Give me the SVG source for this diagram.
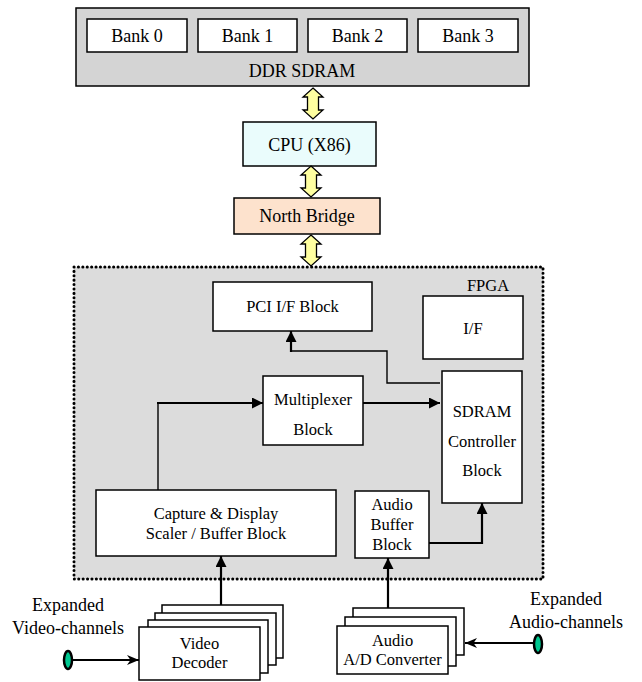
<svg xmlns="http://www.w3.org/2000/svg" width="642" height="682" viewBox="0 0 642 682">
<style>
  .t18 { font-family: "Liberation Serif", "Times New Roman", serif; font-size: 18px; fill: #000; text-anchor: middle; }
  .t16 { font-family: "Liberation Serif", "Times New Roman", serif; font-size: 16.5px; fill: #000; text-anchor: middle; }
  .box { fill: #ffffff; stroke: #000; stroke-width: 1.5; }
  .dbl { fill: #ffffa0; stroke: #000; stroke-width: 1.3; stroke-linejoin: miter; }
  .thick { fill: none; stroke: #000; stroke-width: 2.2; }
  .thin { fill: none; stroke: #000; stroke-width: 1.4; }
  .jack { fill: #00c890; stroke: #000; stroke-width: 2.5; }
</style>
<defs>
  <marker id="arr" viewBox="0 0 10 10" refX="10" refY="5" markerUnits="userSpaceOnUse" markerWidth="11" markerHeight="11" orient="auto">
    <path d="M0,0 L10,5 L0,10 Z" fill="#000"/>
  </marker>
  <marker id="stealth" viewBox="0 0 12 10" refX="12" refY="5" markerUnits="userSpaceOnUse" markerWidth="12" markerHeight="10" orient="auto">
    <path d="M0,0 L12,5 L0,10 L3.5,5 Z" fill="#000"/>
  </marker>
  <path id="dblarrow" d="M0,0 L10,9 L5.5,9 L5.5,22 L10,22 L0,31 L-10,22 L-5.5,22 L-5.5,9 L-10,9 Z"/>
</defs>

<g id="ddr">
  <rect x="76" y="8" width="453" height="78" fill="#d4d4d4" stroke="#000" stroke-width="1.5"/>
  <text class="t18" x="302" y="77">DDR SDRAM</text>
</g>
<g id="bank0"><rect class="box" x="87" y="19" width="100" height="33"/><text class="t18" x="137" y="42">Bank 0</text></g>
<g id="bank1"><rect class="box" x="198" y="19" width="99" height="33"/><text class="t18" x="247.5" y="42">Bank 1</text></g>
<g id="bank2"><rect class="box" x="308" y="19" width="99" height="33"/><text class="t18" x="357.5" y="42">Bank 2</text></g>
<g id="bank3"><rect class="box" x="418" y="19" width="100" height="33"/><text class="t18" x="468" y="42">Bank 3</text></g>

<g id="cpu">
  <rect x="243" y="122" width="133" height="44" fill="#eafcfc" stroke="#000" stroke-width="1.5"/>
  <text class="t18" x="309.5" y="151">CPU (X86)</text>
</g>
<g id="northbridge">
  <rect x="234" y="198" width="146" height="36" fill="#fde2cd" stroke="#000" stroke-width="1.5"/>
  <text class="t18" x="307" y="222">North Bridge</text>
</g>

<g id="fpga">
  <rect x="74" y="267" width="469" height="312" fill="#dcdcdc" stroke="#000" stroke-width="3" stroke-linecap="round" stroke-dasharray="0.1 4.3"/>
  <text class="t16" x="488" y="291">FPGA</text>
</g>
<g id="pci"><rect class="box" x="213" y="282" width="159" height="49"/><text class="t16" x="292.5" y="312">PCI I/F Block</text></g>
<g id="if"><rect class="box" x="423" y="296" width="100" height="63"/><text class="t16" x="473" y="334">I/F</text></g>
<g id="mux">
  <rect class="box" x="263" y="376" width="100" height="69"/>
  <text class="t16" x="313" y="405">Multiplexer</text>
  <text class="t16" x="313" y="435">Block</text>
</g>
<g id="sdramctl">
  <rect class="box" x="442" y="371" width="80" height="132"/>
  <text class="t16" x="482" y="417">SDRAM</text>
  <text class="t16" x="482" y="447">Controller</text>
  <text class="t16" x="482" y="476">Block</text>
</g>
<g id="capture">
  <rect class="box" x="96" y="490" width="240" height="66"/>
  <text class="t16" x="216" y="519">Capture &amp; Display</text>
  <text class="t16" x="216" y="539">Scaler / Buffer Block</text>
</g>
<g id="audiobuf">
  <rect class="box" x="355" y="491" width="74" height="67"/>
  <text class="t16" x="392" y="510">Audio</text>
  <text class="t16" x="392" y="530">Buffer</text>
  <text class="t16" x="392" y="550">Block</text>
</g>

<g id="videodecoder">
  <rect class="box" x="162" y="605" width="121" height="53"/>
  <rect class="box" x="155" y="613" width="121" height="52"/>
  <rect class="box" x="148" y="620" width="120" height="53"/>
  <rect class="box" x="139" y="627" width="121" height="53"/>
  <text class="t16" x="199.5" y="649">Video</text>
  <text class="t16" x="199.5" y="668">Decoder</text>
</g>
<g id="adconverter">
  <rect class="box" x="353" y="608" width="111" height="47"/>
  <rect class="box" x="345" y="617" width="111" height="49"/>
  <rect class="box" x="337" y="626" width="111" height="48"/>
  <text class="t16" x="392.5" y="646">Audio</text>
  <text class="t16" x="392.5" y="665">A/D Converter</text>
</g>

<g id="videoin">
  <text class="t18" x="68" y="611">Expanded</text>
  <text class="t18" x="68" y="634">Video-channels</text>
  <ellipse class="jack" cx="68" cy="660" rx="4" ry="9"/>
</g>
<g id="audioin">
  <text class="t18" x="566" y="605">Expanded</text>
  <text class="t18" x="566" y="628">Audio-channels</text>
  <ellipse class="jack" cx="538" cy="644" rx="4" ry="9"/>
</g>

<g id="connectors">
  <use href="#dblarrow" class="dbl" x="313" y="88"/>
  <use href="#dblarrow" class="dbl" x="311" y="166"/>
  <use href="#dblarrow" class="dbl" x="311" y="235"/>
  <polyline class="thin" points="440,383 387,383 387,351 291,351 291,345"/>
  <line class="thick" x1="291" y1="352" x2="291" y2="331" marker-end="url(#arr)"/>
  <line class="thick" x1="363" y1="403" x2="440" y2="403" marker-end="url(#arr)"/>
  <polyline class="thin" points="158,490 158,403"/>
  <line class="thick" x1="157" y1="403" x2="263" y2="403" marker-end="url(#arr)"/>
  <polyline class="thick" points="429,543 482,543 482,503" marker-end="url(#arr)"/>
  <line class="thick" x1="221" y1="605" x2="221" y2="556" marker-end="url(#arr)"/>
  <line class="thick" x1="388" y1="608" x2="388" y2="558" marker-end="url(#arr)"/>
  <line class="thick" x1="72" y1="660" x2="139" y2="660" marker-end="url(#stealth)"/>
  <line class="thick" x1="534" y1="643" x2="465" y2="643" marker-end="url(#stealth)"/>
</g>
</svg>
